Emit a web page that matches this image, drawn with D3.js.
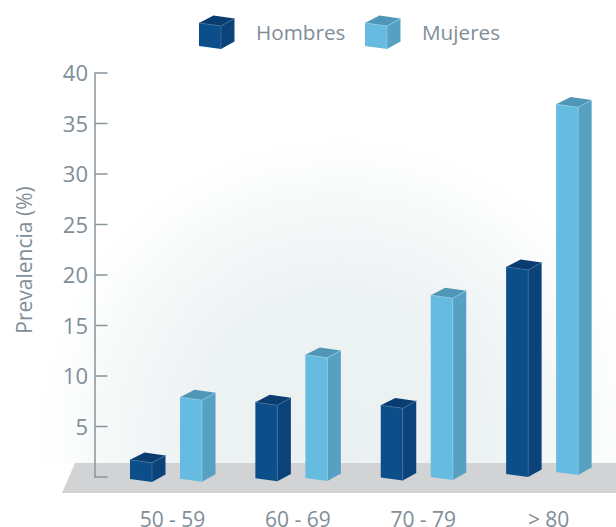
<!DOCTYPE html>
<html lang="es">
<head>
<meta charset="UTF-8">
<title>Prevalencia</title>
<script src="https://d3js.org/d3.v7.min.js"></script>
<style>
 html, body { margin: 0; padding: 0; background: #fff; }
 svg { display: block; }
 text { font-family: "Open Sans", sans-serif; fill: #7f8e97; }
</style>
</head>
<body>
<div id="chart"></div>
<script>
const categories = ["50 - 59", "60 - 69", "70 - 79", "> 80"];
const seriesNames = ["Hombres", "Mujeres"];
const hombres = [1.7, 7.4, 7.1, 20.8];
const mujeres = [7.9, 12.1, 18, 36.9];
const yTicks = [5, 10, 15, 20, 25, 30, 35, 40];

const width = 616;
const height = 527;
const barW = 22;
const sideW = 13.5;
const sideH = 7.4;
const tilt = 3;

const colors = {
  Hombres: { front: "#0c4e8a", side: "#0b4279", top: "#0a3c70", edge: "#3f73a3" },
  Mujeres: { front: "#65bbe0", side: "#56a0c2", top: "#5096b6", edge: "#8fd0ea" }
};

const svg = d3.select("#chart").append("svg")
  .attr("width", width)
  .attr("height", height);

const defs = svg.append("defs");
const glow = defs.append("radialGradient")
  .attr("id", "glow")
  .attr("gradientUnits", "userSpaceOnUse")
  .attr("cx", 340).attr("cy", 440).attr("r", 305);
glow.append("stop").attr("offset", "0%").attr("stop-color", "#ebf0f0");
glow.append("stop").attr("offset", "50%").attr("stop-color", "#edf2f2");
glow.append("stop").attr("offset", "100%").attr("stop-color", "#ffffff");

const y = d3.scaleLinear().domain([0, 40]).range([477, 73]);
const x = d3.scaleBand().domain(categories).range([112.5, 614]);
const s = d3.scaleBand().domain(seriesNames).range([17.5, 117.5]);
// the floor is drawn in perspective, so bar feet climb a little going right
const foot = d3.scaleLinear().domain([130, 305, 431, 556]).range([482, 481, 480, 475]);

// back glow and floor
svg.append("rect")
  .attr("x", 0).attr("y", 120).attr("width", width).attr("height", 343)
  .attr("fill", "url(#glow)");
svg.append("path")
  .attr("d", d3.line()([[75, 463], [width, 463], [width, 493], [62, 493]]) + "Z")
  .attr("fill", "#d1d3d4");

// y axis
const axis = svg.append("g").attr("stroke", "#87959c").attr("stroke-width", 1.5).attr("fill", "none");
axis.append("line").attr("x1", 95).attr("x2", 95).attr("y1", y(40) - 0.75).attr("y2", y(0) + 0.75);
axis.selectAll(".tick").data([0].concat(yTicks)).enter().append("line")
  .attr("class", "tick")
  .attr("x1", 95).attr("x2", 107.5)
  .attr("y1", d => y(d)).attr("y2", d => y(d));

svg.selectAll(".ylab").data(yTicks).enter().append("text")
  .attr("class", "ylab")
  .attr("x", 88).attr("y", d => y(d) + 8)
  .attr("text-anchor", "end")
  .attr("font-size", 22)
  .text(d => d);

svg.append("text")
  .attr("transform", "translate(32,260) rotate(-90)")
  .attr("text-anchor", "middle")
  .attr("font-size", 21)
  .text("Prevalencia (%)");

svg.selectAll(".xlab").data(categories).enter().append("text")
  .attr("class", "xlab")
  .attr("x", d => x(d) + 60)
  .attr("y", 526.5)
  .attr("text-anchor", "middle")
  .attr("font-size", 21)
  .text(d => d);

function drawBox(g, x0, yTop, yBottom, w, c) {
  g.append("path").attr("fill", c.front)
    .attr("d", d3.line()([[x0, yTop], [x0 + w, yTop + tilt], [x0 + w, yBottom], [x0, yBottom - tilt]]) + "Z");
  g.append("path").attr("fill", c.side)
    .attr("d", d3.line()([[x0 + w, yTop + tilt], [x0 + w + sideW, yTop + tilt - sideH], [x0 + w + sideW, yBottom - sideH], [x0 + w, yBottom]]) + "Z");
  g.append("path").attr("fill", c.top)
    .attr("d", d3.line()([[x0, yTop], [x0 + sideW + 1, yTop - sideH], [x0 + w + sideW, yTop + tilt - sideH], [x0 + w, yTop + tilt]]) + "Z");
  // thin light highlight on the box edges
  g.append("path").attr("fill", "none").attr("stroke", c.edge).attr("stroke-width", 0.7)
    .attr("d", d3.line()([[x0, yTop], [x0 + w, yTop + tilt], [x0 + w, yBottom]]));
  g.append("path").attr("fill", "none").attr("stroke", c.edge).attr("stroke-width", 0.7)
    .attr("d", d3.line()([[x0 + w, yTop + tilt], [x0 + w + sideW, yTop + tilt - sideH]]));
}

const bars = svg.append("g");
[hombres, mujeres].forEach((values, i) => {
  const name = seriesNames[i];
  values.forEach((v, j) => {
    const x0 = x(categories[j]) + s(name);
    drawBox(bars.append("g"), x0, y(v), foot(x0), barW, colors[name]);
  });
});

// legend
const legendX = d3.scalePoint().domain(seriesNames).range([199, 365]);
seriesNames.forEach(name => {
  drawBox(svg.append("g"), legendX(name), 23, 49, 22, colors[name]);
  svg.append("text")
    .attr("x", legendX(name) + 57)
    .attr("y", 40)
    .attr("font-size", 20.7)
    .text(name);
});
</script>
</body>
</html>
